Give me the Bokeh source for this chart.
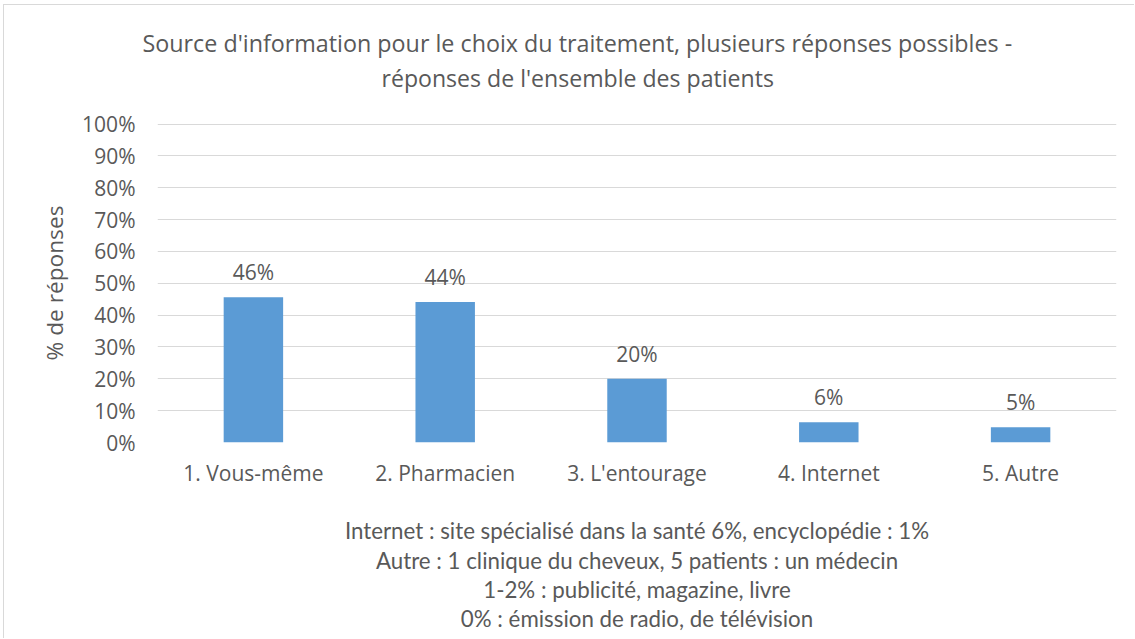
from bokeh.plotting import figure
from bokeh.models import ColumnDataSource, Range1d, FixedTicker, PrintfTickFormatter, Title
from bokeh.core.properties import value
from bokeh.embed import file_html
from bokeh.resources import INLINE

# ---- data ----
categories = ["1. Vous-même", "2. Pharmacien", "3. L'entourage", "4. Internet", "5. Autre"]
percentages = [45.6, 44.1, 20.0, 6.4, 4.8]
labels = [f"{round(v)}%" for v in percentages]
y_ticks = list(range(0, 101, 10))
title_lines = ["Source d'information pour le choix du  traitement, plusieurs réponses possibles -",
               "réponses de l'ensemble des patients"]
y_title = "% de réponses"
notes = ["Internet : site spécialisé dans la santé 6%, encyclopédie : 1%",
         "Autre : 1 clinique du cheveux, 5 patients : un médecin",
         "1-2% : publicité, magazine, livre",
         "0% : émission de radio, de télévision"]

TXT = "#595959"
GRID = "#D9D9D9"
BAR = "#5B9BD5"
FONT = "Open Sans"
NOTE_FONT = "Lato"
NOTE_SIZE = "22.3px"

src = ColumnDataSource(dict(cat=categories, val=percentages, lab=labels))

p = figure(x_range=categories, y_range=Range1d(0, 109.0), width=1131, height=634,
           output_backend="svg", toolbar_location=None, tools="",
           min_border_left=153, min_border_right=19, min_border_top=90, min_border_bottom=197)
p.styles = {"border-top": "1px solid #D9D9D9", "border-left": "1px solid #D9D9D9",
            "margin-left": "3px", "margin-top": "4px"}
p.outline_line_color = None
p.background_fill_color = "white"
p.border_fill_color = "white"

p.vbar(x="cat", top="val", width=0.31, source=src, color=BAR, line_color=None)
p.text(x="cat", y="val", text="lab", source=src, text_align="center", text_baseline="middle",
       y_offset=-25, text_color=TXT, text_font=value(FONT), text_font_size="21px")

p.xgrid.visible = False
p.ygrid.grid_line_color = GRID
p.ygrid.grid_line_width = 1
p.yaxis.ticker = FixedTicker(ticks=y_ticks)
p.yaxis.formatter = PrintfTickFormatter(format="%d%%")

for ax in (p.xaxis[0], p.yaxis[0]):
    ax.axis_line_color = None
    ax.major_tick_line_color = None
    ax.minor_tick_line_color = None
    ax.major_tick_out = 0
    ax.major_tick_in = 0
    ax.minor_tick_out = 0
    ax.major_label_text_color = TXT
    ax.major_label_text_font = FONT
    ax.major_label_text_font_size = "21px"
p.yaxis.major_label_standoff = 22
p.xaxis.major_label_standoff = 16

# first note line is the x-axis label (centred under the plot area)
p.xaxis.axis_label = notes[0]
p.xaxis.axis_label_text_font = NOTE_FONT
p.xaxis.axis_label_text_font_size = NOTE_SIZE
p.xaxis.axis_label_text_font_style = "normal"
p.xaxis.axis_label_text_color = TXT
p.xaxis.axis_label_standoff = 27

# y title on the left side
p.add_layout(Title(text=y_title, align="left", offset=82, standoff=20,
                   text_font=FONT, text_font_size="22.7px", text_font_style="normal",
                   text_color=TXT), "left")

# title lines: "above" is ordered from the frame outward
p.title.visible = False
p.add_layout(Title(text=title_lines[1], align="left", offset=224, standoff=3,
                   text_font=FONT, text_font_size="23.1px", text_font_style="normal",
                   text_color=TXT), "above")
p.add_layout(Title(text=title_lines[0], align="left", offset=-15, standoff=0,
                   text_font=FONT, text_font_size="23.3px", text_font_style="normal",
                   text_color=TXT), "above")

for txt in notes[1:]:
    p.add_layout(Title(text=txt, align="center", standoff=0, vertical_align="top",
                       text_font=NOTE_FONT, text_font_size=NOTE_SIZE, text_font_style="normal",
                       text_color=TXT), "below")

open("out.html", "w").write(file_html(p, INLINE))
